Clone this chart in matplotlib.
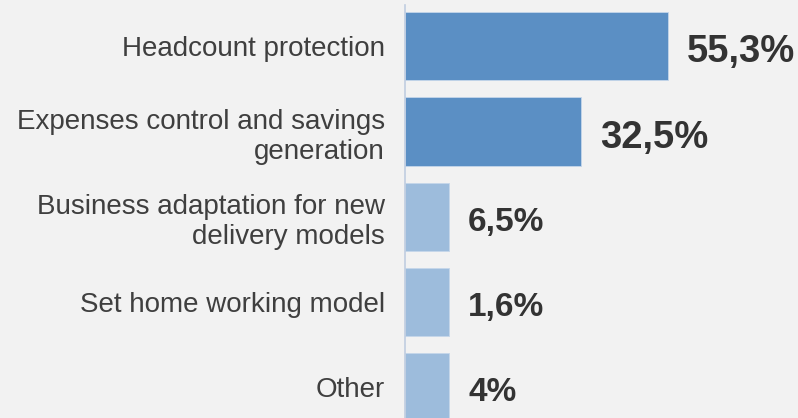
import matplotlib
matplotlib.use("Agg")
import matplotlib.pyplot as plt

# data
categories = [
    "Headcount protection",
    "Expenses control and savings\ngeneration",
    "Business adaptation for new\ndelivery models",
    "Set home working model",
    "Other",
]
value_labels = ["55,3%", "32,5%", "6,5%", "1,6%", "4%"]
# drawn bar lengths (the small bars share a minimum width in the original)
bar_lengths = [55.3, 37.0, 9.3, 9.3, 9.3]
highlight = [True, True, False, False, False]

DARK = "#5b8fc4"
LIGHT = "#9dbcdc"
BG = "#f2f2f2"

plt.rcParams["font.family"] = ["Liberation Sans", "DejaVu Sans"]

W, H = 798, 418
fig = plt.figure(figsize=(W / 100, H / 100), dpi=100, facecolor=BG)
ax = fig.add_axes([405 / W, 0, (W - 405) / W, 1 - 5 / H])
ax.set_facecolor(BG)

ypos = list(range(len(categories)))
colors = [DARK if h else LIGHT for h in highlight]
ax.barh(ypos, bar_lengths, height=0.8, color=colors, edgecolor="#c5d6ea",
        linewidth=0.6, zorder=2)

ax.set_xlim(0, 82.6)
ax.set_ylim(4.37, -0.488)

for y, length, lab, h in zip(ypos, bar_lengths, value_labels, highlight):
    ax.annotate(lab, (length, y), xytext=(19, -2), textcoords="offset pixels",
                fontsize=27.5 if h else 24, fontweight="bold", color="#333333",
                ha="left", va="center_baseline")

ax.set_yticks(ypos)
ax.set_yticklabels(categories, fontsize=20, color="#3f3f3f",
                   linespacing=1.2)
ax.tick_params(axis="y", length=0, pad=14.4)
ax.set_xticks([])

for side in ("top", "right", "bottom"):
    ax.spines[side].set_visible(False)
ax.spines["left"].set_color("#c0cde0")
ax.spines["left"].set_linewidth(1.2)

fig.savefig("out.png", dpi=100, facecolor=BG)
